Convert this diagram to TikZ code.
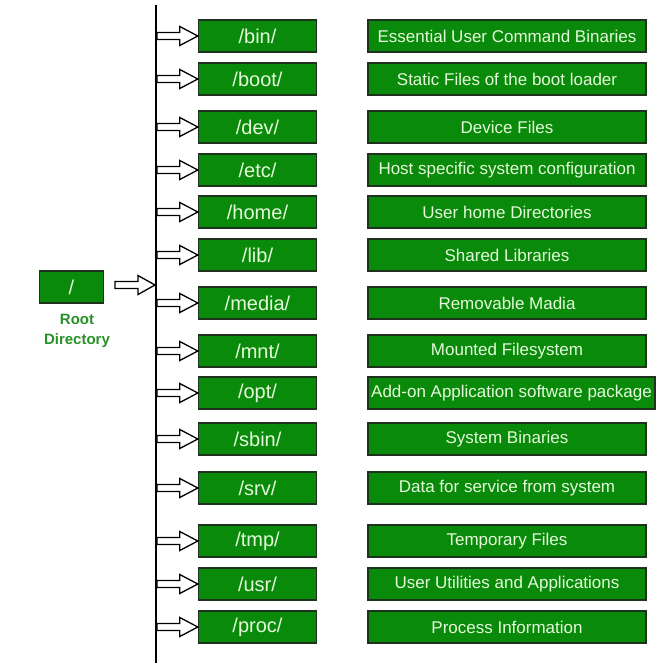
\documentclass[tikz,border=0pt]{standalone}
\usepackage{fontspec}
\setmainfont{Liberation Sans}
\usetikzlibrary{calc}
\definecolor{boxgreen}{RGB}{10,138,10}
\definecolor{boxedge}{RGB}{30,50,30}
\definecolor{boxtext}{RGB}{228,250,218}
\definecolor{roottext}{RGB}{40,145,40}
\tikzset{
  dirbox/.style={draw=boxedge, line width=1.4pt, fill=boxgreen, text=boxtext,
    minimum width=118pt, minimum height=32pt, inner sep=0pt,
    font=\fontsize{20}{20}\selectfont},
  descbox/.style={draw=boxedge, line width=1.4pt, fill=boxgreen, text=boxtext,
    minimum width=278pt, minimum height=32pt, inner sep=0pt,
    font=\fontsize{17}{17}\selectfont},
  hollow/.style={draw=black, line width=1.3pt, fill=white, line join=miter},
  trunk/.style={draw=black, line width=1.8pt},
  rootlabel/.style={text=roottext, font=\fontsize{15}{20.5}\selectfont\bfseries, align=center}
}
\newcommand{\harrow}[3]{%
  \draw[hollow] let \p1=(#1), \p2=(#2) in
    (\x1,\y1+3.5pt) -- (\x2-#3,\y1+3.5pt) -- (\x2-#3,\y1+9.5pt) -- (\x2,\y1)
    -- (\x2-#3,\y1-9.5pt) -- (\x2-#3,\y1-3.5pt) -- (\x1,\y1-3.5pt) -- cycle;}
\begin{document}
\begin{tikzpicture}[x=1pt,y=-1pt]
\useasboundingbox (0,0) rectangle (662,666);
\coordinate (top) at (156,5);
\coordinate (bot) at (156,663);
\draw[trunk] (top) -- (bot);
% root
\node[dirbox, minimum width=64pt] (root) at (71.5,287) {/};
\node[rootlabel] (rootlbl) at (77,331) {Root\\Directory};
\coordinate (rootstart) at (115,285);
\coordinate (rootend) at (155,285);
\harrow{rootstart}{rootend}{17pt}
% rows
\foreach \nm/\yy/\dn/\tx in {
  bin/36/{/bin/}/{Essential User Command Binaries},
  boot/79/{/boot/}/{Static Files of the boot loader},
  dev/127/{/dev/}/{Device Files},
  etc/170/{/etc/}/{Host specific system configuration},
  home/212/{/home/}/{User home Directories},
  lib/255/{/lib/}/{Shared Libraries},
  media/303/{/media/}/{Removable Madia},
  mnt/351/{/mnt/}/{Mounted Filesystem},
  sbin/439/{/sbin/}/{System Binaries},
  srv/488/{/srv/}/{Data for service from system},
  tmp/541/{/tmp/}/{Temporary Files},
  usr/584/{/usr/}/{User Utilities and Applications},
  proc/627/{/proc/}/{Process Information}} {
  \node[dirbox] (d\nm) at (257.5,\yy) {\dn};
  \node[descbox] (t\nm) at (507,\yy) {\tx};
  \coordinate (c\nm) at (157,\yy);
  \harrow{c\nm}{d\nm.west}{18pt}
}
% opt row (wider description)
\node[dirbox] (dopt) at (257.5,393) {/opt/};
\node[descbox, minimum width=287pt] (topt) at (511.5,393) {Add-on Application software package};
\coordinate (copt) at (157,393);
\harrow{copt}{dopt.west}{18pt}
\end{tikzpicture}
\end{document}
